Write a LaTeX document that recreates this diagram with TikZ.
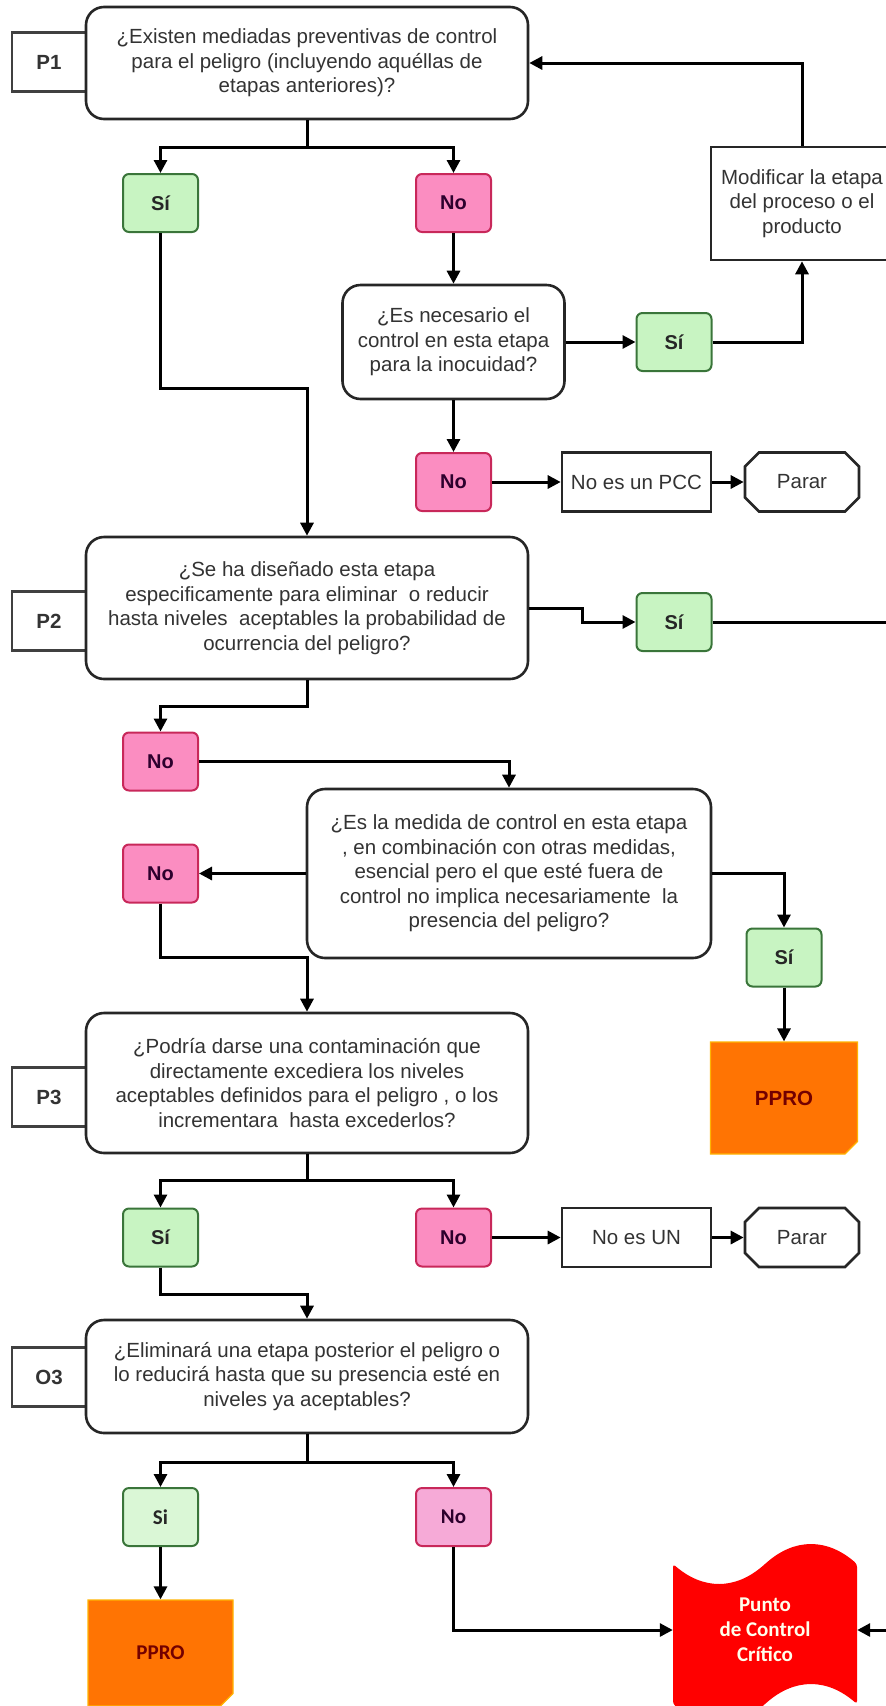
\documentclass[tikz,border=0pt]{standalone}
\usepackage{fontspec}
\setmainfont{Liberation Sans}
\newfontfamily\calibri{Carlito}
\usetikzlibrary{arrows.meta,shapes.misc}
\definecolor{siFill}{HTML}{C8F4C2}
\definecolor{siLine}{HTML}{3A753A}
\definecolor{noFill}{HTML}{FB8DC1}
\definecolor{noLine}{HTML}{C8285A}
\definecolor{siPale}{HTML}{DAF7D6}
\definecolor{noPale}{HTML}{F6AAD7}
\definecolor{pproOrange}{HTML}{FF7403}
\definecolor{pccRed}{HTML}{FF0000}
\definecolor{txt}{HTML}{333333}

\begin{document}
\begin{tikzpicture}[x=1pt, y=-1pt,
	every node/.style={font=\fontsize{20.5}{24.5}\selectfont, text=txt, align=center},
	question/.style={draw=black!85, fill=white, line width=2.6pt, rounded corners=18pt, minimum width=442pt},
	tag/.style={draw=black!75, fill=white, line width=2.6pt, minimum width=74pt, minimum height=59pt, font=\fontsize{20.5}{24.5}\selectfont\bfseries},
	sibox/.style={draw=siLine, fill=siFill, line width=2pt, rounded corners=6pt, minimum width=75pt, minimum height=58pt, font=\fontsize{20}{24}\selectfont\bfseries, text=black!85},
	nobox/.style={sibox, draw=noLine, fill=noFill, text=violet!35!black},
	result/.style={draw=black!85, fill=white, line width=2.6pt, minimum width=149pt, minimum height=59pt},
	halt/.style={chamfered rectangle, chamfered rectangle xsep=16pt, draw=black!85, fill=white, line width=2.6pt, minimum width=114pt, minimum height=59pt},
	pprobox/.style={chamfered rectangle, chamfered rectangle corners=south east, chamfered rectangle xsep=9pt, fill=pproOrange, draw=pproOrange!55!yellow, line width=1.2pt, minimum width=147pt, minimum height=112pt, font=\fontsize{20.5}{24.5}\selectfont\bfseries, text=red!45!black},
	link/.style={line width=3pt, -{Triangle[length=13pt,width=13pt]}}]
	\useasboundingbox (0,0) rectangle (886,1706);
	\clip (0,0) rectangle (886,1706);
	\coordinate (rim) at (905,0);

	\node[tag] (p1) at (49,62) {P1};
	\node[tag] (p2) at (49,621) {P2};
	\node[tag] (p3) at (49,1097) {P3};
	\node[tag] (o3) at (49,1377) {O3};

	\node[question, minimum height=112pt] (q1) at (307,63) {¿Existen mediadas preventivas de control\\para el peligro (incluyendo aquéllas de\\etapas anteriores)?};
	\node[sibox] (si1) at (160.5,203) {Sí};
	\node[nobox] (no1) at (453.5,203) {No};
	\node[result, minimum width=182pt, minimum height=113pt] (modif) at (802,203.5) {Modificar la etapa\\del proceso o el\\producto};
	\node[question, minimum width=222pt, minimum height=114pt] (q2) at (453.5,342) {¿Es necesario el\\control en esta etapa\\para la inocuidad?};
	\node[sibox] (si2) at (674,342) {Sí};
	\node[nobox] (no2) at (453.5,482) {No};
	\node[result] (nopcc) at (636.5,482) {No es un PCC};
	\node[halt] (stop1) at (802,482) {Parar};

	\node[question, minimum height=142pt] (q3) at (307,608) {¿Se ha diseñado esta etapa\\especificamente para eliminar\ \ o reducir\\hasta niveles\ \ aceptables la probabilidad de\\ocurrencia del peligro?};
	\node[sibox] (si3) at (674,622) {Sí};
	\node[nobox] (no3) at (160.5,761.5) {No};
	\node[question, minimum width=404pt, minimum height=169pt] (q4) at (509,873.5) {¿Es la medida de control en esta etapa\\, en combinación con otras medidas,\\esencial pero el que esté fuera de\\control no implica necesariamente\ \ la\\presencia del peligro?};
	\node[nobox] (no4) at (160.5,873.5) {No};
	\node[sibox] (si4) at (784,957.5) {Sí};
	\node[pprobox] (ppro1) at (784,1098) {PPRO};

	\node[question, minimum height=140pt] (q5) at (307,1083) {¿Podría darse una contaminación que\\directamente excediera los niveles\\aceptables definidos para el peligro , o los\\incrementara\ \ hasta excederlos?};
	\node[sibox] (si5) at (160.5,1237.5) {Sí};
	\node[nobox] (no5) at (453.5,1237.5) {No};
	\node[result] (noun) at (636.5,1237.5) {No es UN};
	\node[halt] (stop2) at (802,1237.5) {Parar};

	\node[question, minimum height=113pt] (q6) at (307,1376.5) {¿Eliminará una etapa posterior el peligro o\\lo reducirá hasta que su presencia esté en\\niveles ya aceptables?};
	\node[sibox, fill=siPale, font=\fontsize{21}{24}\calibri\bfseries] (si6) at (160.5,1517) {Si};
	\node[nobox, fill=noPale, font=\fontsize{21}{24}\calibri\bfseries] (no6) at (453.5,1517) {No};
	\node[pprobox, minimum width=145pt, minimum height=106pt, font=\fontsize{21}{24}\calibri\bfseries] (ppro2) at (160.5,1653) {PPRO};

	\fill[pccRed, rounded corners=3pt] (673,1564) .. controls (703,1590) and (735,1590) .. (765,1564) .. controls (795,1538) and (827,1538) .. (857,1564) -- (857,1704) .. controls (827,1678) and (795,1678) .. (765,1704) .. controls (735,1730) and (703,1730) .. (673,1704) -- cycle;
	\node[minimum width=184pt, minimum height=150pt, text=yellow!8, font=\fontsize{21}{25}\calibri\bfseries] (pcc) at (765,1630) {Punto\\de Control\\Crítico};

	\draw[link] (q1.south) -- ++(0,27) -| (si1.north);
	\draw[link] (q1.south) -- ++(0,27) -| (no1.north);
	\draw[link] (no1.south) -- (q2.north);
	\draw[link] (q2.east) -- (si2.west);
	\draw[link] (si2.east) -| (modif.south);
	\draw[link] (modif.north) |- (q1.east);
	\draw[link] (q2.south) -- (no2.north);
	\draw[link] (no2.east) -- (nopcc.west);
	\draw[link] (nopcc.east) -- (stop1.west);
	\draw[link] (si1.south) -- ++(0,155) -| (q3.north);

	\draw[link] (q3.east) -- ++(53,0) |- (si3.west);
	\draw[link] (si3.east) -- (si3.east -| rim) |- (pcc.east);
	\draw[link] (q3.south) -- ++(0,26) -| (no3.north);
	\draw[link] (no3.east) -| (q4.north);
	\draw[link] (q4.west) -- (no4.east);
	\draw[link] (q4.east) -| (si4.north);
	\draw[link] (si4.south) -- (ppro1.north);
	\draw[link] (no4.south) -- ++(0,54) -| (q5.north);

	\draw[link] (q5.south) -- ++(0,26) -| (si5.north);
	\draw[link] (q5.south) -- ++(0,26) -| (no5.north);
	\draw[link] (no5.east) -- (noun.west);
	\draw[link] (noun.east) -- (stop2.west);
	\draw[link] (si5.south) -- ++(0,27) -| (q6.north);

	\draw[link] (q6.south) -- ++(0,28) -| (si6.north);
	\draw[link] (q6.south) -- ++(0,28) -| (no6.north);
	\draw[link] (si6.south) -- (ppro2.north);
	\draw[link] (no6.south) |- (pcc.west);
\end{tikzpicture}
\end{document}
